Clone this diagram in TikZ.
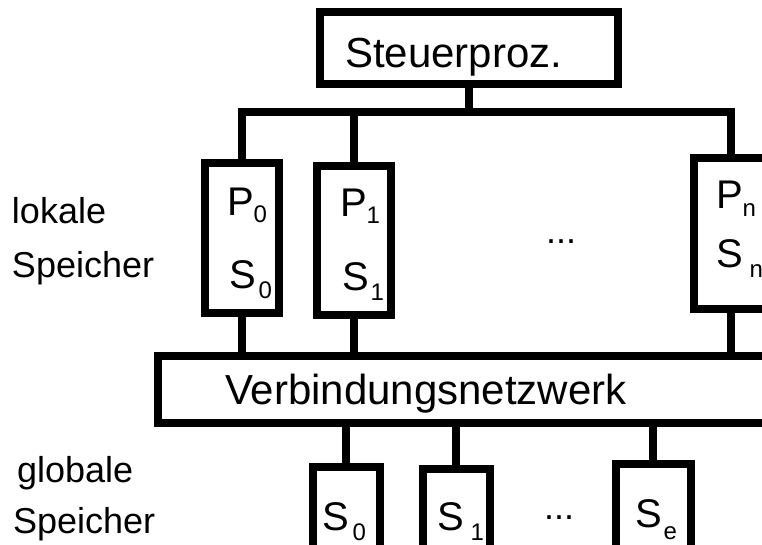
\documentclass[tikz,border=0pt]{standalone}
\usepackage{fontspec}
\setmainfont{Liberation Sans}
% lowered subscript: [kern]{drop}{text}
\newcommand\lowsub[3][0pt]{\kern#1\raisebox{-#2}{\fontsize{24}{24}\selectfont #3}}

\begin{document}
\begin{tikzpicture}[x=1pt,y=-1pt,
  box/.style={draw, line width=8pt, rectangle, inner sep=0pt, outer sep=0pt},
  conn/.style={line width=7.5pt},
  lbl/.style={anchor=base west, inner sep=0pt, outer sep=0pt},
  big/.style={font=\fontsize{40}{48}\selectfont},
  side/.style={font=\fontsize{36}{43}\selectfont}]

\useasboundingbox (0,0) rectangle (762,544);
\clip (0,0) rectangle (762,544);

% control processor
\node[box, minimum width=298pt, minimum height=72pt] (steuer) at (469,48) {};
\node[lbl, font=\fontsize{42}{50}\selectfont] (steuertxt) at (345,67) {Steuerproz.};

% processors with local memories
\node[box, minimum width=74pt, minimum height=150pt] (p0) at (242,238) {};
\node[box, minimum width=74pt, minimum height=149pt] (p1) at (354,240.5) {};
\node[box, minimum width=74pt, minimum height=151pt] (pn) at (731,233.5) {};

% interconnection network
\node[box, minimum width=642pt, minimum height=67pt] (netz) at (479,389.5) {};
\node[lbl, font=\fontsize{42}{50}\selectfont] (netztxt) at (225,404) {Verbindungsnetzwerk};

% global memories
\node[box, minimum width=67pt, minimum height=140pt] (g0) at (346,537) {};
\node[box, minimum width=67pt, minimum height=140pt] (g1) at (456,539) {};
\node[box, minimum width=75pt, minimum height=140pt] (ge) at (653,534) {};

% bus from the control processor
\coordinate (bus) at (469,112);
\draw[conn] (steuer.south) -- (bus);
\draw[conn] (p0.north) |- (bus) -| (pn.north);
\draw[conn] (p1.north) -- (p1.north |- bus);

% processors to network
\draw[conn] (p0.south) -- (p0.south |- netz.north);
\draw[conn] (p1.south) -- (p1.south |- netz.north);
\draw[conn] (pn.south) -- (pn.south |- netz.north);

% network to global memories
\draw[conn] (g0.north |- netz.south) -- (g0.north);
\draw[conn] (g1.north |- netz.south) -- (g1.north);
\draw[conn] (ge.north |- netz.south) -- (ge.north);

% box labels
\node[lbl, big] (p0p) at (227,215) {P\lowsub{7pt}{0}};
\node[lbl, big] (p0s) at (229,288) {S\lowsub[3pt]{10pt}{0}};
\node[lbl, big] (p1p) at (340,216) {P\lowsub{7pt}{1}};
\node[lbl, big] (p1s) at (342,290) {S\lowsub[2pt]{10pt}{1}};
\node[lbl, big] (pnp) at (716,208) {P\lowsub{8pt}{n}};
\node[lbl, big] (pns) at (716,267) {S\lowsub[7pt]{10pt}{n}};

\node[lbl, big] (g0s) at (322,530) {S\lowsub[4pt]{10pt}{0}};
\node[lbl, big] (g1s) at (437,530) {S\lowsub[7pt]{10pt}{1}};
\node[lbl, big] (ges) at (635,527) {S\lowsub[2pt]{12pt}{e}};

% ellipses
\node[lbl, side] (dotsp) at (546,243) {...};
\node[lbl, side] (dotsg) at (544,519) {...};

% side captions
\node[lbl, side] (lok1) at (12,223) {lokale};
\node[lbl, side] (lok2) at (12,277) {Speicher};
\node[lbl, side] (glo1) at (17,482) {globale};
\node[lbl, side] (glo2) at (13,533) {Speicher};

\end{tikzpicture}
\end{document}
